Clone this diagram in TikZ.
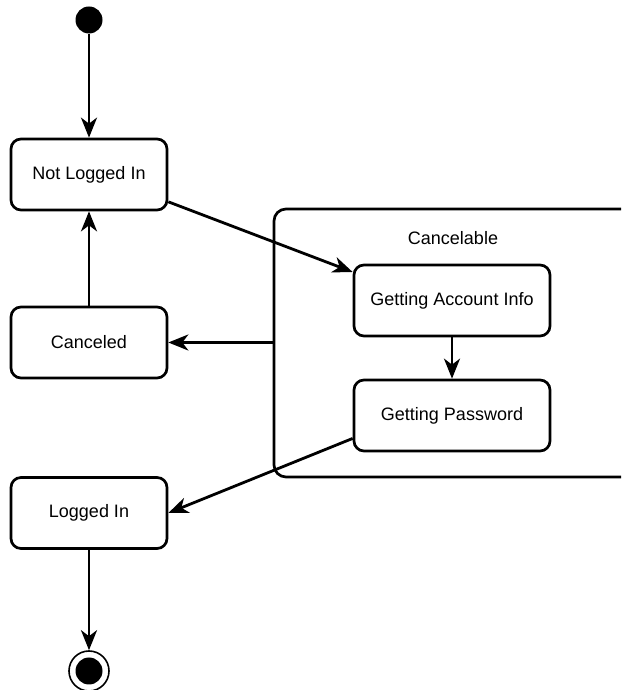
\documentclass[tikz,border=0pt]{standalone}
\usepackage{fontspec}
\setmainfont{Liberation Sans}
\usetikzlibrary{arrows.meta}
\tikzset{
  state/.style={draw, line width=2.7pt, rounded corners=10pt, inner sep=2pt,
    minimum width=156pt, minimum height=71pt, font=\fontsize{18}{21}\selectfont},
  wide state/.style={state, minimum width=196pt},
  superstate/.style={draw, line width=2.7pt, rounded corners=12pt,
    minimum width=430pt, minimum height=268pt},
  trans/.style={line width=2.8pt, -{Stealth[length=20pt, width=16pt, inset=6pt]}},
}
\begin{document}
\begin{tikzpicture}[x=1pt, y=1pt]
  \clip (0,0) rectangle (621,690);
  % Composite state
  \node[superstate] (cancelable) at (489,347) {};
  \node[font=\fontsize{18}{21}\selectfont] (cancelLabel) at (453,452) {Cancelable};
  % Pseudo states
  \node[circle, fill=black, inner sep=0pt, minimum size=27pt] (init) at (89,670) {};
  \node[circle, draw, line width=1.6pt, inner sep=0pt, minimum size=40pt] (final) at (89,19) {};
  \fill (final.center) circle (13.5pt);
  % States
  \node[state] (notLoggedIn) at (89,515.5) {Not Logged In};
  \node[state] (canceled) at (89,347.5) {Canceled};
  \node[state] (loggedIn) at (89,177) {Logged In};
  \node[wide state] (accountInfo) at (452,389.5) {Getting Account Info};
  \node[wide state] (password) at (452,274.5) {Getting Password};
  % Transitions
  \draw[trans] (init) -- (notLoggedIn);
  \draw[trans] (notLoggedIn.-19) -- (accountInfo.164);
  \draw[trans] (accountInfo) -- (password);
  \draw[trans] (cancelable.west |- canceled.east) -- (canceled.east);
  \draw[trans] (canceled) -- (notLoggedIn);
  \draw[trans] (password.193) -- (loggedIn.east);
  \draw[trans] (loggedIn) -- (final);
\end{tikzpicture}
\end{document}
